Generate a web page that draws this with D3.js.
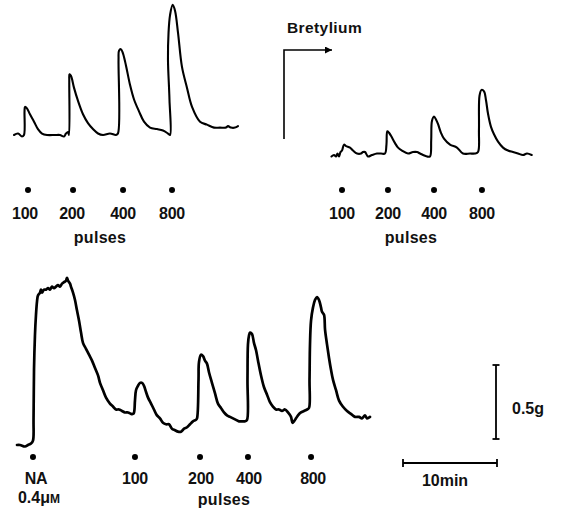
<!DOCTYPE html>
<html>
<head>
<meta charset="utf-8">
<script src="https://cdn.jsdelivr.net/npm/d3@7/dist/d3.min.js"></script>
<style>
  html, body { margin: 0; padding: 0; background: #fff; }
  svg text { font-family: "Liberation Sans", Arial, Helvetica, sans-serif; fill: #111; font-weight: bold; }
</style>
</head>
<body>
<svg id="chart" width="565" height="512"></svg>
<script>
// Isometric tension recordings: [time (min), tension (g)]

// Control: field stimulation at increasing pulse numbers
const controlTrace = [
  [0.00,0.00],[0.43,0.01],[0.85,-0.01],[1.06,0.00],[1.12,0.16],[1.17,0.19],[1.38,0.18],
  [1.70,0.14],[2.13,0.09],[2.55,0.04],[2.98,0.01],[3.51,0.00],[4.36,0.00],[4.89,0.00],
  [5.32,-0.01],[5.53,0.01],[5.74,0.02],[5.85,0.00],[5.88,0.37],[5.90,0.41],[6.06,0.40],
  [6.38,0.32],[6.81,0.23],[7.34,0.14],[7.87,0.08],[8.40,0.04],[8.94,0.01],[9.47,0.00],
  [10.21,0.01],[10.85,0.00],[11.06,0.01],[11.12,0.51],[11.17,0.57],[11.38,0.58],
  [11.60,0.55],[11.91,0.47],[12.34,0.34],[12.77,0.24],[13.30,0.16],[13.83,0.09],
  [14.47,0.05],[15.21,0.04],[15.85,0.03],[16.38,0.01],[16.60,0.00],[16.54,0.24],
  [16.38,0.51],[16.44,0.69],[16.60,0.81],[16.88,0.88],[17.13,0.84],[17.45,0.69],
  [17.87,0.46],[18.40,0.32],[18.94,0.19],[19.79,0.09],[20.53,0.07],[21.28,0.05],
  [21.91,0.05],[22.55,0.05],[22.77,0.06],[23.09,0.05],[23.51,0.05],[23.83,0.06]
];
const controlStim = [1.49, 6.28, 11.60, 16.81];

// After bretylium
const bretyliumTrace = [
  [0.05,-0.01],[0.32,0.00],[0.53,-0.01],[0.69,0.01],[0.85,-0.01],[1.01,0.02],[1.17,0.03],
  [1.38,0.07],[1.60,0.06],[2.02,0.05],[2.34,0.03],[2.77,0.01],[3.19,0.01],[3.40,0.02],
  [3.62,0.02],[3.94,-0.01],[4.36,0.00],[4.89,0.01],[5.32,0.01],[5.74,0.01],[5.90,0.07],
  [5.99,0.16],[6.17,0.15],[6.38,0.13],[6.81,0.08],[7.13,0.05],[7.55,0.03],[8.19,0.01],
  [8.72,0.02],[9.15,0.02],[9.47,0.01],[9.79,0.00],[10.21,-0.01],[10.53,-0.01],
  [10.66,0.10],[10.74,0.23],[10.96,0.26],[11.17,0.24],[11.38,0.21],[11.70,0.15],
  [12.02,0.11],[12.66,0.07],[13.40,0.05],[14.04,0.01],[14.79,0.01],[15.32,0.01],
  [15.64,0.02],[15.74,0.17],[15.80,0.40],[16.01,0.44],[16.28,0.43],[16.49,0.37],
  [16.70,0.28],[17.02,0.19],[17.34,0.14],[17.77,0.09],[18.30,0.05],[18.83,0.03],
  [19.36,0.02],[19.89,0.01],[20.43,0.00],[20.85,0.01],[21.35,0.00]
];
const bretyliumStim = [1.17, 6.06, 10.96, 16.06];

const pulseLabels = ["100", "200", "400", "800"];

// Noradrenaline 0.4 µM followed by stimulation
const naTrace = [
  [0.00,0.00],[0.32,0.00],[0.85,-0.01],[1.17,0.00],[1.49,0.01],[1.70,0.03],[1.76,0.17],
  [1.81,0.51],[1.91,0.74],[2.02,0.88],[2.13,0.97],[2.23,1.01],[2.45,1.03],[2.55,1.05],
  [2.66,1.03],[2.87,1.05],[3.09,1.05],[3.30,1.06],[3.51,1.05],[3.72,1.07],[3.94,1.06],
  [4.15,1.07],[4.36,1.08],[4.57,1.07],[4.79,1.09],[5.00,1.10],[5.21,1.11],[5.32,1.13],
  [5.43,1.11],[5.64,1.09],[5.74,1.07],[5.96,1.03],[6.17,0.98],[6.38,0.91],[6.60,0.84],
  [6.81,0.76],[7.02,0.69],[7.34,0.65],[7.66,0.61],[7.98,0.57],[8.30,0.52],[8.62,0.47],
  [8.83,0.42],[9.15,0.37],[9.47,0.32],[9.89,0.28],[10.21,0.26],[10.53,0.24],[10.85,0.24],
  [11.17,0.23],[11.49,0.22],[11.81,0.22],[12.13,0.21],[12.34,0.21],[12.45,0.22],
  [12.55,0.30],[12.66,0.37],[12.87,0.40],[13.09,0.42],[13.30,0.42],[13.51,0.40],
  [13.72,0.36],[13.94,0.32],[14.26,0.28],[14.57,0.24],[14.89,0.20],[15.21,0.18],
  [15.53,0.15],[15.85,0.14],[16.17,0.14],[16.49,0.11],[16.81,0.10],[17.13,0.09],
  [17.45,0.09],[17.77,0.11],[18.09,0.12],[18.40,0.14],[18.72,0.16],[19.04,0.17],
  [19.15,0.18],[19.31,0.44],[19.36,0.56],[19.57,0.61],[19.79,0.60],[20.00,0.57],
  [20.21,0.55],[20.43,0.49],[20.74,0.42],[21.06,0.35],[21.38,0.28],[21.70,0.25],
  [22.02,0.22],[22.34,0.20],[22.66,0.19],[22.98,0.18],[23.30,0.17],[23.62,0.16],
  [23.94,0.16],[24.26,0.16],[24.47,0.17],[24.52,0.44],[24.57,0.68],[24.68,0.74],
  [24.79,0.76],[25.00,0.75],[25.21,0.69],[25.43,0.64],[25.64,0.57],[25.96,0.47],
  [26.28,0.39],[26.60,0.34],[26.91,0.29],[27.23,0.26],[27.55,0.24],[27.87,0.24],
  [28.19,0.23],[28.51,0.24],[28.83,0.22],[29.15,0.19],[29.31,0.15],[29.47,0.16],
  [29.68,0.18],[29.89,0.20],[30.21,0.22],[30.53,0.23],[30.85,0.24],[31.06,0.25],
  [31.12,0.44],[31.17,0.68],[31.28,0.84],[31.49,0.93],[31.70,0.98],[31.91,1.00],
  [32.13,0.98],[32.34,0.93],[32.45,0.90],[32.66,0.88],[32.77,0.78],[32.98,0.68],
  [33.19,0.59],[33.40,0.51],[33.62,0.44],[33.94,0.37],[34.26,0.30],[34.66,0.26],
  [35.11,0.23],[35.53,0.21],[35.96,0.19],[36.38,0.19],[36.70,0.18],[37.02,0.20],
  [37.23,0.18],[37.55,0.19]
];
const naStim = [1.70, 12.55, 19.47, 24.57, 31.28];
const naLabels = ["NA", "100", "200", "400", "800"];

// Calibration bars
const calTension = 0.5;   // g
const calTime = 10;       // min

const svg = d3.select("#chart");

// common recorder calibration: pixels per minute and per gram
const pxPerMin = 9.4;
const pxPerG = 148;

function panelScales(x0, y0) {
  return {
    x: d3.scaleLinear().domain([0, calTime]).range([x0, x0 + calTime * pxPerMin]),
    y: d3.scaleLinear().domain([0, calTension]).range([y0, y0 - calTension * pxPerG])
  };
}

function drawPanel(opts) {
  const s = panelScales(opts.x0, opts.y0);
  const line = d3.line().x(d => s.x(d[0])).y(d => s.y(d[1])).curve(d3.curveCatmullRom.alpha(0.5));
  const g = svg.append("g");
  g.append("path")
    .datum(opts.trace)
    .attr("d", line)
    .attr("fill", "none")
    .attr("stroke", "#000")
    .attr("stroke-width", opts.width)
    .attr("stroke-linejoin", "round")
    .attr("stroke-linecap", "round");

  g.selectAll("circle.stim")
    .data(opts.stim)
    .join("circle")
    .attr("class", "stim")
    .attr("cx", d => s.x(d))
    .attr("cy", opts.dotY)
    .attr("r", 3)
    .attr("fill", "#000");

  g.selectAll("text.stim")
    .data(opts.stim)
    .join("text")
    .attr("class", "stim")
    .attr("x", (d, i) => s.x(d) + (opts.labelDx ? opts.labelDx[i] : 0))
    .attr("y", opts.labelY)
    .attr("text-anchor", "middle")
    .attr("font-size", 16)
    .attr("letter-spacing", -0.3)
    .text((d, i) => opts.labels[i]);

  g.append("text")
    .attr("x", opts.pulsesX)
    .attr("y", opts.pulsesY)
    .attr("text-anchor", "middle")
    .attr("font-size", 16)
    .attr("letter-spacing", 0.3)
    .text("pulses");
  return s;
}

drawPanel({ trace: controlTrace, stim: controlStim, labels: pulseLabels,
  x0: 14, y0: 135, width: 2.1, dotY: 190, labelY: 219, pulsesX: 100, pulsesY: 243,
  labelDx: [-3, -1, 0, 0] });

drawPanel({ trace: bretyliumTrace, stim: bretyliumStim, labels: pulseLabels,
  x0: 331, y0: 155, width: 2.1, dotY: 190, labelY: 219, pulsesX: 411, pulsesY: 243,
  labelDx: [0, 0, 0, 0] });

drawPanel({ trace: naTrace, stim: naStim, labels: naLabels,
  x0: 17, y0: 445, width: 2.7, dotY: 457, labelY: 484, pulsesX: 224, pulsesY: 505,
  labelDx: [3, 0, 1, 1, 2] });

// concentration under the NA label
const conc = svg.append("text")
  .attr("x", 39).attr("y", 503)
  .attr("text-anchor", "middle")
  .attr("font-size", 16);
conc.append("tspan").text("0.4");
conc.append("tspan").text("\u03bc");
conc.append("tspan").attr("font-size", 12).text("M");

// Bretylium marker: bent arrow
svg.append("defs").append("marker")
  .attr("id", "arrowhead")
  .attr("viewBox", "0 0 10 10")
  .attr("refX", 10).attr("refY", 5)
  .attr("markerWidth", 15).attr("markerHeight", 7)
  .attr("markerUnits", "userSpaceOnUse")
  .attr("orient", "auto")
  .append("path").attr("d", "M0,0 L10,5 L0,10 Z").attr("fill", "#000");

svg.append("path")
  .attr("d", "M284,139 L284,50 L332,50")
  .attr("fill", "none")
  .attr("stroke", "#000")
  .attr("stroke-width", 1.6)
  .attr("marker-end", "url(#arrowhead)");

svg.append("text")
  .attr("x", 287).attr("y", 33)
  .attr("font-size", 15.5)
  .attr("letter-spacing", 0.4)
  .text("Bretylium");

// Calibration bars drawn with the recorder scales
const cal = panelScales(403, 439);
const vx = 496;
svg.append("line")
  .attr("x1", vx).attr("x2", vx)
  .attr("y1", cal.y(0)).attr("y2", cal.y(calTension))
  .attr("stroke", "#000").attr("stroke-width", 1.8);
[0, calTension].forEach(v => {
  svg.append("line")
    .attr("x1", vx - 3.5).attr("x2", vx + 3.5)
    .attr("y1", cal.y(v)).attr("y2", cal.y(v))
    .attr("stroke", "#000").attr("stroke-width", 1.8);
});
svg.append("text")
  .attr("x", 512).attr("y", 414)
  .attr("font-size", 16)
  .text(calTension + "g");

const hy = 463;
svg.append("line")
  .attr("x1", cal.x(0)).attr("x2", cal.x(calTime))
  .attr("y1", hy).attr("y2", hy)
  .attr("stroke", "#000").attr("stroke-width", 1.8);
[0, calTime].forEach(v => {
  svg.append("line")
    .attr("x1", cal.x(v)).attr("x2", cal.x(v))
    .attr("y1", hy - 4).attr("y2", hy + 4)
    .attr("stroke", "#000").attr("stroke-width", 1.8);
});
svg.append("text")
  .attr("x", 445).attr("y", 486)
  .attr("text-anchor", "middle")
  .attr("font-size", 16)
  .text(calTime + "min");
</script>
</body>
</html>
